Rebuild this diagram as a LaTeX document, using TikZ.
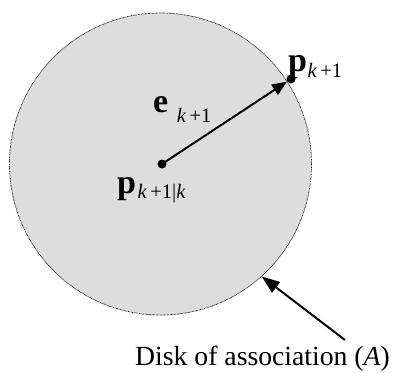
\documentclass[tikz,border=0pt]{standalone}
\usepackage{fontspec}
\setmainfont{Liberation Serif}
\usetikzlibrary{arrows.meta}
\newcommand{\bigsym}[1]{{\fontsize{34}{34}\selectfont\bfseries #1}}
\newcommand{\subsym}[1]{{\fontsize{20.5}{20.5}\selectfont #1}}
\definecolor{diskgray}{HTML}{DDDDDD}
\begin{document}
\begin{tikzpicture}[x=1pt,y=-1pt,
  disk/.style={circle, fill=diskgray, draw=black, line width=0.7pt,
    dash pattern=on 0.7pt off 0.7pt, minimum size=302pt, inner sep=0pt},
  dot/.style={circle, fill=black, inner sep=0pt, minimum size=9pt},
  lbl/.style={inner sep=0pt, anchor=base west},
  arr/.style={line width=2pt, -{Triangle[length=15pt,width=12pt]}}]
\useasboundingbox (0,0) rectangle (393,372);
\node[disk] (D) at (160.5,164) {};
\node[dot] (c) at (162,164) {};
\node[dot] (pk) at (291,79) {};
\draw[arr, shorten <=-2pt] (c) -- (pk);
\node[lbl] (e) at (153,112) {\bigsym{e}\hspace{8.5pt}\raisebox{-10pt}{\subsym{\textit{k}\,+1}}};
\node[lbl] (pp) at (117,193) {\bigsym{p}\hspace{1.5pt}\raisebox{-5pt}{\subsym{\textit{k}\,+1|\textit{k}}}};
\node[lbl] (pn) at (288,71) {\bigsym{p}\hspace{0.5pt}\raisebox{-6pt}{\subsym{\textit{k}\,+1}}};
\node[lbl] (t) at (135,365) {\fontsize{27.7}{27.7}\selectfont Disk of association (\textit{A})};
\coordinate (s) at (345,340);
\draw[arr, -{Triangle[length=18pt,width=13pt]}] (s) -- (D.-48.6);
\end{tikzpicture}
\end{document}
